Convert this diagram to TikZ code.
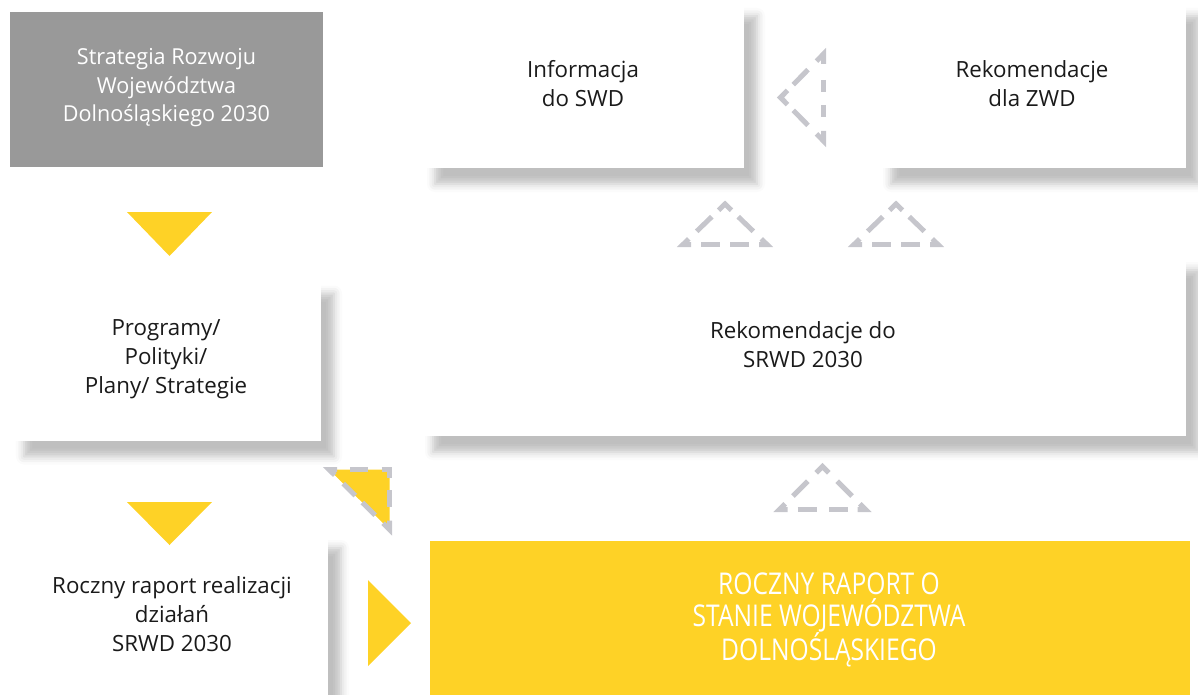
\documentclass[tikz,border=0pt]{standalone}
\usepackage{fontspec}
\setmainfont{Open Sans}
\newfontfamily\condfont[FakeStretch=0.82]{Open Sans}
\newfontfamily\myrfont[FakeStretch=0.98]{Open Sans}
\usetikzlibrary{calc,shadows.blur}
\definecolor{ylw}{RGB}{254,210,38}
\definecolor{gboxc}{RGB}{153,153,153}
\definecolor{dgray}{RGB}{198,198,204}
\definecolor{txt}{RGB}{26,26,26}
\newcommand\dcorner[4]{\draw[dline] ($(#2)!#4!(#1)$) -- (#2) -- ($(#2)!#4!(#3)$);}
\newcommand\dseg[4]{\draw[dline] ($(#1)!#3!(#2)$) -- ($(#1)!#4!(#2)$);}
\tikzset{
  basebox/.style={rectangle, inner sep=0pt, align=center},
  wbox/.style={basebox, fill=white, text=txt, font=\fontsize{22.3}{29}\selectfont,
    blur shadow={shadow xshift=13pt, shadow yshift=-16pt, shadow blur radius=8pt, shadow opacity=25}},
  gbox/.style={basebox, fill=gboxc, text=white, font=\myrfont\fontsize{22}{28.5}\selectfont},
  ybox/.style={basebox, fill=ylw},
  ytext/.style={align=center, inner sep=0pt, text=white, font=\condfont\fontsize{30}{32}\selectfont},
  dline/.style={draw=dgray, line width=5pt, line join=miter, line cap=butt},
  yarrow/.style={fill=ylw},
}
\begin{document}
\begin{tikzpicture}[x=1pt,y=-1pt]
\useasboundingbox (0,0) rectangle (1198,695);
% boxes
\node[gbox, minimum width=313pt, minimum height=155pt] (srwd) at (166.5,89.5) {};
\node[align=center, inner sep=0pt, text=white, font=\myrfont\fontsize{22}{28.5}\selectfont] (srwdtext) at (166.5,88)
  {Strategia Rozwoju\\Województwa\\Dolnośląskiego 2030};
\node[wbox, minimum width=322pt, minimum height=168pt] (info) at (583,84)
  {Informacja\\do SWD};
\node[wbox, minimum width=308pt, minimum height=168pt] (zwd) at (1032,84)
  {Rekomendacje\\dla ZWD};
\node[wbox, minimum width=310pt, minimum height=163pt] (prog) at (166,359)
  {Programy/\\Polityki/\\Plany/ Strategie};
\node[wbox, minimum width=766pt, minimum height=182pt] (rek) at (803,345)
  {Rekomendacje do\\SRWD 2030};
\node[wbox, minimum width=312pt, minimum height=165pt] (rrr) at (172,614.5)
  {Roczny raport realizacji\\działań\\SRWD 2030};
\node[ybox, minimum width=760pt, minimum height=154pt] (rso) at (810,618) {};
\node[ytext] (rsotext) at (829,620) {ROCZNY RAPORT O\\STANIE WOJEWÓDZTWA\\DOLNOŚLĄSKIEGO};
% yellow arrows
\fill[yarrow] (127,212) -- (212,212) -- (169.5,256) -- cycle;
\fill[yarrow] (127,502) -- (212,502) -- (169.5,545) -- cycle;
\fill[yarrow] (368,580) -- (411,623) -- (368,666) -- cycle;
% corner triangle
\coordinate (cTL) at (329,469.5);
\coordinate (cTR) at (389.5,469.5);
\coordinate (cBR) at (389.5,529.5);
\fill[ylw] (cTL) -- (cTR) -- (cBR) -- cycle;
\dcorner{cBR}{cTL}{cTR}{8pt}
\dcorner{cTL}{cTR}{cBR}{8pt}
\dcorner{cTR}{cBR}{cTL}{9pt}
\dseg{cTL}{cTR}{21pt}{39pt}
\dseg{cTR}{cBR}{20.5pt}{37.5pt}
\dseg{cTL}{cBR}{20pt}{37pt}
\dseg{cTL}{cBR}{47pt}{65pt}
% left-pointing dashed triangle
\coordinate (lT) at (823.5,54);
\coordinate (lB) at (823.5,141);
\coordinate (lA) at (780.5,97.5);
\dcorner{lA}{lT}{lB}{10pt}
\dcorner{lT}{lB}{lA}{10pt}
\dcorner{lB}{lA}{lT}{10pt}
\dseg{lT}{lB}{26pt}{38pt}
\dseg{lT}{lB}{51pt}{63pt}
\dseg{lT}{lA}{22pt}{43pt}
\dseg{lB}{lA}{22pt}{43pt}
% up-pointing dashed triangles
\foreach \n/\ax/\ay/\hw/\h in {u1/725/204/42/40.5, u2/896/204/42/40.5, u3/822.5/466.5/43/43}{
  \coordinate (\n A) at (\ax,\ay);
  \coordinate (\n L) at (\ax-\hw,\ay+\h);
  \coordinate (\n R) at (\ax+\hw,\ay+\h);
  \dcorner{\n L}{\n A}{\n R}{9pt}
  \dcorner{\n A}{\n L}{\n R}{8pt}
  \dcorner{\n L}{\n R}{\n A}{8pt}
  \dseg{\n L}{\n A}{19pt}{40pt}
  \dseg{\n R}{\n A}{19pt}{40pt}
  \dseg{\n L}{\n R}{18pt}{37pt}
  \dseg{\n R}{\n L}{18pt}{37pt}
}
\end{tikzpicture}
\end{document}
